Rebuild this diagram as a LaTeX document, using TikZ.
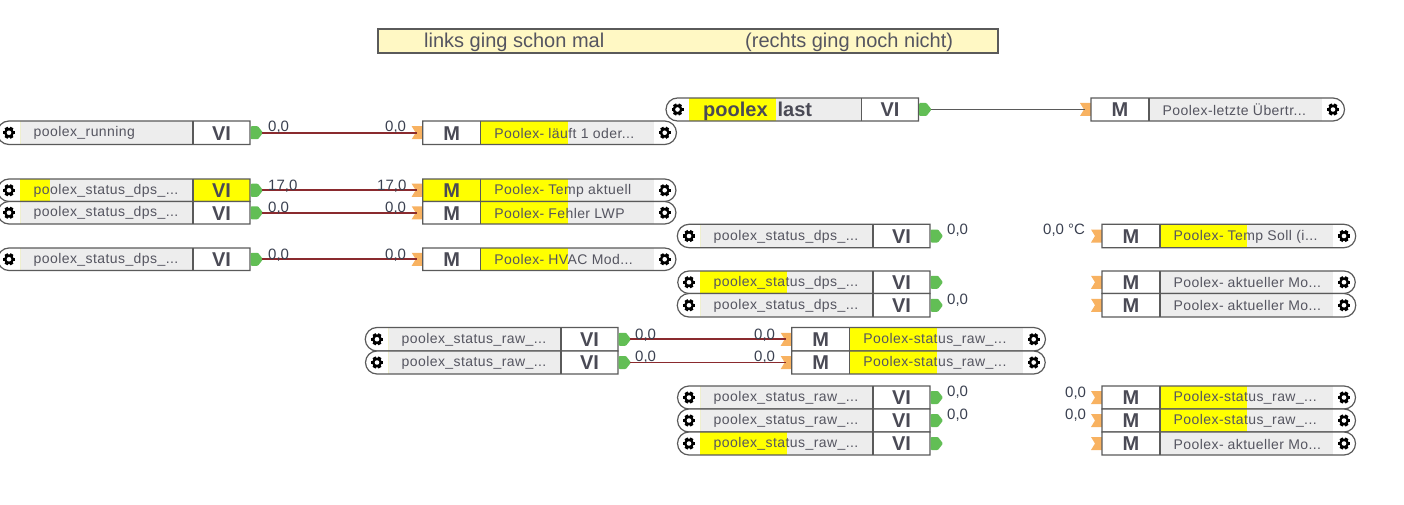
\documentclass[tikz,border=0pt]{standalone}
\usepackage{fontspec}
\setmainfont{Liberation Sans}
\definecolor{lineg}{HTML}{5A5A5A}
\definecolor{greyf}{HTML}{EDEDED}
\definecolor{yell}{HTML}{FFFF00}
\definecolor{txt}{HTML}{555560}
\definecolor{cellt}{HTML}{4A4A55}
\definecolor{pingreen}{HTML}{62BE55}
\definecolor{inp}{HTML}{F8B261}
\definecolor{wirer}{HTML}{8A2A2E}
\definecolor{valt}{HTML}{3A4050}
\definecolor{note}{HTML}{FFF8C4}
\newfontfamily\lblfont[LetterSpace=3]{Liberation Sans}
\newcommand\gapx{\hspace{4pt}}
\tikzset{
  x=1pt,y=-1pt,
  outl/.style={draw=lineg,line width=1.2pt},
  lbl/.style={anchor=west,inner sep=0pt,yshift=-1pt,text=txt,font=\fontsize{14}{14}\lblfont},
  cellm/.style={inner sep=0pt,text=cellt,font=\fontsize{20}{20}\selectfont\bfseries},
  val/.style={anchor=west,inner sep=0pt,yshift=-1.5pt,text=valt,font=\fontsize{15}{15}\selectfont},
  wire/.style={draw=wirer,line width=1.6pt},
  wireg/.style={draw=lineg,line width=1.2pt},
  notetxt/.style={anchor=west,inner sep=0pt,yshift=-1.5pt,text=txt,font=\fontsize{20}{20}\selectfont},
}
\newcommand\gearicon[2]{%
  \begin{scope}[shift={(#1,#2)}]
    \foreach \a in {0,60,120} {\fill[black,rotate=\a] (-6,-1.7) rectangle (6,1.7);}
    \fill[black] (0,0) circle[radius=5];
    \fill[white] (0,0) circle[radius=2.3];
  \end{scope}}
% name, left, top, bottom, yellow width, cell colour, text
\newcommand\VIblock[7]{%
  \pgfmathsetmacro\ymid{(#3+#4)/2}
  \fill[white] ({#2+23},#3) -- ({#2+12},#3) arc[start angle=90,end angle=270,radius=({(#4-#3)/2}pt)] -- ({#2+23},#4) -- cycle;
  \fill[greyf] ({#2+23},#3) rectangle ({#2+196},#4);
  \fill[yell] ({#2+23},#3) rectangle ({#2+23+#5},#4);
  \fill[#6] ({#2+196},#3) rectangle ({#2+253},#4);
  \draw[outl] ({#2+253},#3) -- ({#2+12},#3) arc[start angle=90,end angle=270,radius=({(#4-#3)/2}pt)] -- ({#2+253},#4) -- cycle;
  \draw[outl] ({#2+196},#3) -- ({#2+196},#4);
  \gearicon{#2+12}{\ymid}
  \node[lbl] (#1-t) at ({#2+36.5},{\ymid-0.5}) {#7};
  \node[cellm] (#1-c) at ({#2+224.5},{\ymid+0.5}) {VI};
  \fill[pingreen,rounded corners=1pt] ({#2+253.5},{\ymid-6.5}) -- ({#2+261},{\ymid-6.5}) -- ({#2+266},\ymid) -- ({#2+261},{\ymid+6.5}) -- ({#2+253.5},{\ymid+6.5}) -- cycle;
  \coordinate (#1-out) at ({#2+265},\ymid);
}
% name, left, top, bottom, yellow width, cell colour, text
\newcommand\Mblock[7]{%
  \pgfmathsetmacro\ymid{(#3+#4)/2}
  \fill[inp] ({#2-11},{\ymid-6.5}) -- ({#2+1},{\ymid-6.5}) -- ({#2+1},{\ymid+6.5}) -- ({#2-11},{\ymid+6.5}) -- ({#2-7},\ymid) -- cycle;
  \fill[#6] (#2,#3) rectangle ({#2+58},#4);
  \fill[white] ({#2+231},#3) -- ({#2+242},#3) arc[start angle=90,end angle=-90,radius=({(#4-#3)/2}pt)] -- ({#2+231},#4) -- cycle;
  \fill[greyf] ({#2+58},#3) rectangle ({#2+231},#4);
  \fill[yell] ({#2+58},#3) rectangle ({#2+58+#5},#4);
  \draw[outl] (#2,#3) -- ({#2+242},#3) arc[start angle=90,end angle=-90,radius=({(#4-#3)/2}pt)] -- (#2,#4) -- cycle;
  \draw[outl] ({#2+58},#3) -- ({#2+58},#4);
  \gearicon{#2+242}{\ymid}
  \node[lbl] (#1-t) at ({#2+71.5},{\ymid-0.5}) {#7};
  \node[cellm] (#1-c) at ({#2+29},{\ymid+0.5}) {M};
  \coordinate (#1-in) at ({#2-6},\ymid);
}
\begin{document}
\begin{tikzpicture}
\useasboundingbox (0,0) rectangle (1404,505);
\fill[white] (0,0) rectangle (1404,505);
% note bar
\node[draw=lineg,line width=1.2pt,fill=note,minimum width=620pt,minimum height=24pt,inner sep=0pt] (bar) at (688,41) {};
\node[notetxt] (n1) at (424,41) {links ging schon mal};
\node[notetxt] (n2) at (745,41) {(rechts ging noch nicht)};
% left column
\VIblock{a1}{-3}{121}{144.5}{0}{white}{poolex\_running}
\VIblock{a2}{-3}{179}{201.5}{30}{yell}{poolex\_status\_dps\_...}
\VIblock{a3}{-3}{201.5}{224}{0}{white}{poolex\_status\_dps\_...}
\VIblock{a4}{-3}{248}{270.5}{0}{white}{poolex\_status\_dps\_...}
\Mblock{b1}{422.7}{121}{144.5}{87}{white}{Poolex-\gapx läuft 1 oder...}
\Mblock{b2}{422.7}{179}{201.5}{87}{yell}{Poolex-\gapx Temp aktuell}
\Mblock{b3}{422.7}{201.5}{224}{87}{white}{Poolex-\gapx Fehler LWP}
\Mblock{b4}{422.7}{248}{270.5}{87}{white}{Poolex-\gapx HVAC Mod...}
% top block
\VIblock{c0}{665.5}{98}{121}{87}{white}{}
\node[anchor=west,inner sep=0pt,yshift=-1.5pt,text=cellt,font=\fontsize{20}{20}\selectfont\bfseries] (c0-x) at (703,110) {poolex\hspace{10pt}last};
\Mblock{d0}{1091}{98}{121}{0}{white}{Poolex-letzte Übertr...}
% third column
\VIblock{c1}{677}{224.3}{247.7}{0}{white}{poolex\_status\_dps\_...}
\VIblock{c2}{677}{271}{293.5}{87}{white}{poolex\_status\_dps\_...}
\VIblock{c3}{677}{293.5}{317}{0}{white}{poolex\_status\_dps\_...}
\VIblock{c4}{677}{386}{409}{0}{white}{poolex\_status\_raw\_...}
\VIblock{c5}{677}{409}{432}{0}{white}{poolex\_status\_raw\_...}
\VIblock{c6}{677}{432}{455}{87}{white}{poolex\_status\_raw\_...}
% fourth column
\Mblock{d1}{1102}{224.3}{247.7}{87}{white}{Poolex-\gapx Temp Soll (i...}
\Mblock{d2}{1102}{271}{293.5}{0}{white}{Poolex-\gapx aktueller Mo...}
\Mblock{d3}{1102}{293.5}{317}{0}{white}{Poolex-\gapx aktueller Mo...}
\Mblock{d4}{1102}{386}{409}{87}{white}{Poolex-status\_raw\_...}
\Mblock{d5}{1102}{409}{432}{87}{white}{Poolex-status\_raw\_...}
\Mblock{d6}{1102}{432}{455}{0}{white}{Poolex-\gapx aktueller Mo...}
% centre
\VIblock{e1}{365}{327.5}{351}{0}{white}{poolex\_status\_raw\_...}
\VIblock{e2}{365}{351}{374}{0}{white}{poolex\_status\_raw\_...}
\Mblock{f1}{791.7}{327.5}{351}{87}{white}{Poolex-status\_raw\_...}
\Mblock{f2}{791.7}{351}{374}{87}{white}{Poolex-status\_raw\_...}
% connectors
\draw[wire] (a1-out) -- (b1-in);
\draw[wire] (a2-out) -- (b2-in);
\draw[wire] (a3-out) -- (b3-in);
\draw[wire] (a4-out) -- (b4-in);
\draw[wire] (e1-out) -- (f1-in);
\draw[wire] (e2-out) -- (f2-in);
\draw[wireg] (c0-out) -- (d0-in);
% values
\node[val] (v1) at (268,126) {0,0};
\node[val] (v2) at (385,126) {0,0};
\node[val] (v3) at (268,184.5) {17,0};
\node[val] (v4) at (377,184.5) {17,0};
\node[val] (v5) at (268,207) {0,0};
\node[val] (v6) at (385,207) {0,0};
\node[val] (v7) at (268,253.5) {0,0};
\node[val] (v8) at (385,253.5) {0,0};
\node[val] (v9) at (635,334) {0,0};
\node[val] (v10) at (754,334) {0,0};
\node[val] (v11) at (635,356) {0,0};
\node[val] (v12) at (754,356) {0,0};
\node[val] (v13) at (947,229) {0,0};
\node[val] (v14) at (947,299) {0,0};
\node[val] (v15) at (947,391) {0,0};
\node[val] (v16) at (947,413.5) {0,0};
\node[val] (v17) at (1043,229) {0,0 °C};
\node[val] (v18) at (1065,391.5) {0,0};
\node[val] (v19) at (1065,413.5) {0,0};
\end{tikzpicture}
\end{document}
